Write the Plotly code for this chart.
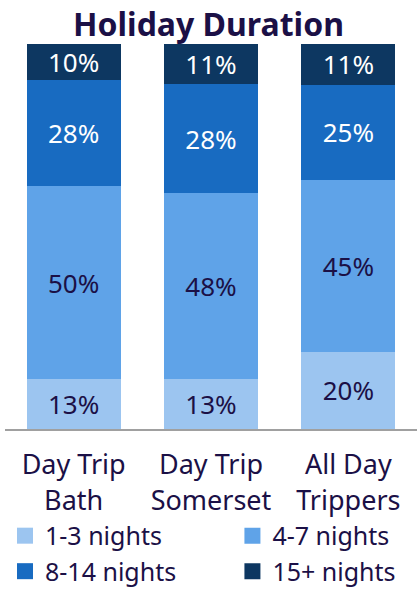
import plotly.graph_objects as go

categories = ["Day Trip<br>Bath", "Day Trip<br>Somerset", "All Day<br>Trippers"]
series_names = ["1-3 nights", "4-7 nights", "8-14 nights", "15+ nights"]
nights_1_3 = [12.9, 12.9, 20.1]
nights_4_7 = [50.1, 48.4, 44.6]
nights_8_14 = [27.6, 28.2, 24.7]
nights_15p = [9.6, 10.6, 10.6]

colors = ["#9CC5F0", "#5FA3E8", "#186BC1", "#0D3761"]
text_colors = ["#1B1046", "#1B1046", "#FFFFFF", "#FFFFFF"]
legend_ids = ["legend", "legend2", "legend", "legend2"]
navy = "#1B1046"
font = "Noto Sans"

fig = go.Figure()
for name, vals, c, tc in zip(series_names, [nights_1_3, nights_4_7, nights_8_14, nights_15p], colors, text_colors):
    fig.add_trace(go.Bar(x=categories, y=vals, name=name, marker_color=c,
                         marker_line_width=0,
                         texttemplate="%{y:.0f}%", textposition="inside",
                         insidetextanchor="middle", textangle=0, constraintext="none",
                         insidetextfont=dict(size=26, color=tc, family=font),
                         showlegend=False))

# legend entries with bigger square markers, split over two legends = two columns
for name, c, lg in zip(series_names, colors, legend_ids):
    fig.add_trace(go.Scatter(x=[None], y=[None], mode="markers", name=name, legend=lg,
                             marker=dict(symbol="square", size=18, color=c)))

leg = dict(orientation="v", xanchor="left", y=-0.218, yanchor="top", traceorder="normal",
           bgcolor="rgba(0,0,0,0)", itemsizing="trace",
           font=dict(size=25, color=navy, family=font))

fig.update_layout(
    barmode="stack",
    bargap=0.314,
    width=417, height=589,
    margin=dict(l=5, r=0, t=44, b=160, autoexpand=False),
    paper_bgcolor="white", plot_bgcolor="white",
    title=dict(text="<b>Holiday Duration</b>", x=0.5, xanchor="center", y=0.958, yanchor="middle",
               font=dict(size=32, color=navy, family=font)),
    font=dict(family=font, color=navy, size=24),
    showlegend=True,
    legend=dict(leg, x=0.0),
    legend2=dict(leg, x=0.552),
)
fig.update_xaxes(showline=True, linecolor="#A0A0A0", linewidth=2, ticks="outside",
                 ticklen=11, tickcolor="rgba(0,0,0,0)", tickfont=dict(size=27, color=navy),
                 fixedrange=True)
fig.update_yaxes(range=[0, 100], visible=False, showgrid=False, fixedrange=True)

# page body has an 8px default margin, drop it so the figure fills the window
fig.write_html("out.html", config={"displayModeBar": False},
               post_script="document.body.style.margin='0';")
